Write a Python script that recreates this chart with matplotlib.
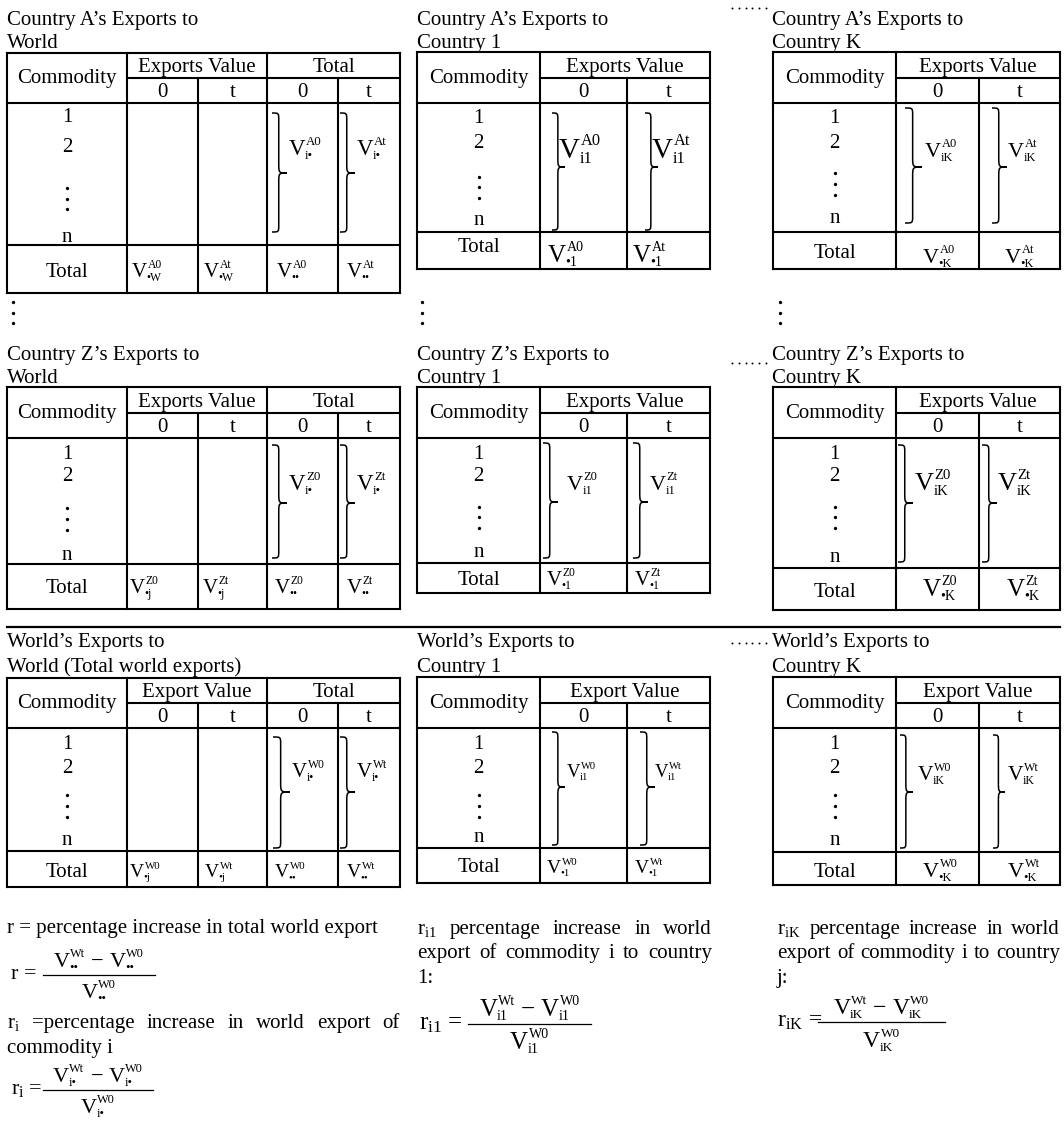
import matplotlib
matplotlib.use('Agg')
import matplotlib.pyplot as plt
from matplotlib.path import Path
from matplotlib.patches import PathPatch

plt.rcParams['font.family'] = ['Liberation Serif', 'DejaVu Serif']
plt.rcParams['mathtext.fontset'] = 'custom'
plt.rcParams['mathtext.rm'] = 'Liberation Serif'
plt.rcParams['mathtext.it'] = 'Liberation Serif:italic'

# ---------------- data ----------------
origins = ['A', 'Z', 'W']
title_first = ['Country A’s Exports to', 'Country Z’s Exports to', 'World’s Exports to']
title_second = [['World', 'Country 1', 'Country K'],
                ['World', 'Country 1', 'Country K'],
                ['World (Total world exports)', 'Country 1', 'Country K']]
value_headers = ['Exports Value', 'Exports Value', 'Export Value']
total_header = 'Total'
commodity_header = 'Commodity'
periods = ['0', 't']
commodity_labels = ['1', '2', 'n']
body_subs = ['i•', 'i1', 'iK']
world_total_subs = ['•W', '•j', '•j']
grand_total_sub = '••'
country_total_subs = ['•1', '•K']

left_line1 = 'r = percentage increase in total world export'
left_words2 = [r'$\mathregular{r_i}$', '=percentage', 'increase', 'in', 'world', 'export', 'of']
left_line3 = 'commodity i'
mid_words1 = [r'$\mathregular{r_{i1}}$', 'percentage', 'increase', 'in', 'world']
right_words1 = [r'$\mathregular{r_{iK}}$', 'percentage', 'increase', 'in', 'world']
words2 = ['export', 'of', 'commodity', 'i', 'to', 'country']
mid_line3 = '1:'
right_line3 = 'j:'
formula_labels = ['r =', r'$\mathregular{r_i}$ =', r'$\mathregular{r_{i1}}$ =', r'$\mathregular{r_{iK}}$ =']
formula_subs = ['••', 'i•', 'i1', 'iK']

# ---------------- layout ----------------
FS = 15
LW = 1.5
PT = 100 / 72.0
SR = 0.56  # script size ratio
COLS = [[7, 127, 198, 267, 338, 400], [417, 540, 627, 710], [773, 896, 979, 1060]]
TITLE_X = [7, 417, 772]
TITLE_Y = [(25, 48), (360, 383), (647, 672)]
LAYOUT = {
    (0, 0): dict(rows=[53, 78, 103, 245, 293], lab=[116, 146, (188, 199, 209), 237],
                 br=[(272, 287), (340, 355)], by=(113, 173, 232), vx=[289, 357], vy=155, vs=16.5,
                 tx=[132, 204, 277, 347], ty=277, ts=15, tb=277),
    (0, 1): dict(rows=[52, 78, 103, 232, 269], lab=[117, 142, (177, 187, 198), 220],
                 br=[(552, 565), (645, 658)], by=(113, 167, 230), vx=[559, 652], vy=158, vs=21,
                 tx=[548, 633], ty=262, ts=18, tb=252),
    (0, 2): dict(rows=[52, 78, 103, 232, 269], lab=[117, 142, (173, 184, 195), 218],
                 br=[(905, 922), (992, 1007)], by=(108, 167, 223), vx=[925, 1008], vy=157, vs=16,
                 tx=[923, 1005], ty=263, ts=16, tb=258),
    (1, 0): dict(rows=[387, 413, 438, 564, 609], lab=[453, 475, (508, 519, 530), 555],
                 br=[(272, 287), (340, 355)], by=(445, 503, 558), vx=[289, 357], vy=490, vs=16.5,
                 tx=[130, 203, 275, 347], ty=593, ts=15, tb=593),
    (1, 1): dict(rows=[387, 413, 438, 563, 593], lab=[453, 475, (507, 517, 528), 552],
                 br=[(543, 558), (633, 648)], by=(443, 502, 558), vx=[567, 650], vy=490, vs=16,
                 tx=[547, 635], ty=585, ts=15, tb=585),
    (1, 2): dict(rows=[387, 413, 438, 568, 610], lab=[453, 475, (507, 517, 528), 557],
                 br=[(898, 913), (982, 997)], by=(445, 503, 562), vx=[915, 998], vy=490, vs=19,
                 tx=[923, 1007], ty=596, ts=18, tb=597),
    (2, 0): dict(rows=[678, 703, 728, 851, 887], lab=[743, 767, (795, 806, 817), 840],
                 br=[(273, 290), (340, 355)], by=(737, 792, 848), vx=[292, 357], vy=777, vs=15,
                 tx=[130, 205, 275, 347], ty=877, ts=14, tb=877),
    (2, 1): dict(rows=[677, 703, 728, 848, 883], lab=[743, 767, (795, 806, 817), 837],
                 br=[(552, 565), (640, 655)], by=(732, 787, 845), vx=[567, 655], vy=777, vs=13.5,
                 tx=[547, 635], ty=873, ts=14, tb=872),
    (2, 2): dict(rows=[677, 703, 728, 852, 885], lab=[743, 767, (795, 806, 817), 840],
                 br=[(900, 913), (993, 1005)], by=(735, 792, 848), vx=[918, 1008], vy=780, vs=15.5,
                 tx=[923, 1008], ty=877, ts=16, tb=877),
}

fig = plt.figure(figsize=(10.64, 11.22), dpi=100)
ax = fig.add_axes([0, 0, 1, 1])
ax.set_xlim(0, 1064)
ax.set_ylim(1122, 0)
ax.axis('off')
renderer = fig.canvas.get_renderer()


def tw(s, size):
    t = ax.text(0, 0, s, fontsize=size)
    w = t.get_window_extent(renderer=renderer).width
    t.remove()
    return w


def txt(x, y, s, size=FS, ha='left'):
    ax.text(x, y, s, fontsize=size, ha=ha, va='baseline', color='black')


def hline(y, x0, x1, lw=LW):
    ax.plot([x0, x1], [y, y], color='black', lw=lw, solid_capstyle='projecting')


def vline(x, y0, y1, lw=LW):
    ax.plot([x, x], [y0, y1], color='black', lw=lw, solid_capstyle='projecting')


def vsym(x, yb, sup, sub, size, r=SR, draw=True):
    em = size * PT
    cap = 0.66 * em
    wV = tw('V', size)
    ss = size * r
    wsup = tw(sup, ss)
    wsub = tw(sub, ss)
    if draw:
        txt(x, yb, 'V', size)
        txt(x + wV + 0.02 * em, yb - 0.66 * cap, sup, ss)
        txt(x + wV - 0.02 * em, yb + 0.26 * cap, sub, ss)
    return wV + max(wsup + 0.02 * em, wsub - 0.02 * em)


def brace(xl, xr, yt, ym, yb, lw=1.1):
    xm = xl + 0.45 * (xr - xl)
    he, ht = 7, 10
    verts = [(xl, yt), (xm, yt), (xm, yt), (xm, yt + he),
             (xm, ym - ht),
             (xm, ym), (xm, ym), (xr, ym),
             (xm, ym), (xm, ym), (xm, ym + ht),
             (xm, yb - he),
             (xm, yb), (xm, yb), (xl, yb)]
    codes = [Path.MOVETO, Path.CURVE4, Path.CURVE4, Path.CURVE4, Path.LINETO,
             Path.CURVE4, Path.CURVE4, Path.CURVE4, Path.CURVE4, Path.CURVE4, Path.CURVE4,
             Path.LINETO, Path.CURVE4, Path.CURVE4, Path.CURVE4]
    ax.add_patch(PathPatch(Path(verts, codes), fill=False, lw=lw, edgecolor='black'))


def dots(xs, ys, ms=2.4):
    ax.plot(xs, ys, 'o', color='black', ms=ms, mew=0)


def justify(words, x0, x1, yb, size=FS):
    ws = [tw(w, size) for w in words]
    gap = (x1 - x0 - sum(ws)) / (len(words) - 1)
    x = x0
    for w, wd in zip(words, ws):
        txt(x, yb, w, size)
        x += wd + gap


def compose(items, xc, yb, size, r=SR):
    ws = []
    for it in items:
        if it[0] == 'V':
            ws.append(vsym(0, 0, it[1], it[2], size, r, draw=False))
        elif it[0] == 'T':
            ws.append(tw(it[1], size))
        else:
            ws.append(it[1])
    x = xc - sum(ws) / 2
    for it, w in zip(items, ws):
        if it[0] == 'V':
            vsym(x, yb, it[1], it[2], size, r)
        elif it[0] == 'T':
            txt(x, yb, it[1], size)
        x += w


def draw_table(r, c):
    L = LAYOUT[(r, c)]
    cols = COLS[c]
    top, hd, sb, db, bt = L['rows']
    world = (c == 0)
    em = FS * PT
    hline(top, cols[0], cols[-1]); hline(bt, cols[0], cols[-1])
    vline(cols[0], top, bt); vline(cols[-1], top, bt)
    hline(hd, cols[1], cols[-1]); hline(sb, cols[0], cols[-1]); hline(db, cols[0], cols[-1])
    vline(cols[1], top, bt)
    if world:
        vline(cols[3], top, bt); vline(cols[2], hd, bt); vline(cols[4], hd, bt)
    else:
        vline(cols[2], hd, bt)
    xc0 = (cols[0] + cols[1]) / 2
    txt(xc0, hd + 5, commodity_header, FS, 'center')
    txt((cols[1] + cols[3]) / 2, hd - 6, value_headers[r], FS, 'center')
    if world:
        txt((cols[3] + cols[5]) / 2, hd - 6, total_header, FS, 'center')
    for k in range(1, len(cols) - 1):
        txt((cols[k] + cols[k + 1]) / 2, sb - 6, periods[(k - 1) % 2], FS, 'center')
    y1, y2, dy, yn = L['lab']
    txt(xc0, y1 + 0.31 * em, commodity_labels[0], FS, 'center')
    txt(xc0, y2 + 0.31 * em, commodity_labels[1], FS, 'center')
    dots([xc0] * 3, list(dy))
    txt(xc0, yn + 0.22 * em, commodity_labels[2], FS, 'center')
    for j in range(2):
        xl, xr = L['br'][j]
        brace(xl, xr, *L['by'])
        vsym(L['vx'][j], L['vy'], origins[r] + periods[j], body_subs[c], L['vs'])
    txt(xc0, L['tb'], total_header, FS, 'center')
    if world:
        entries = [(origins[r] + p, world_total_subs[r]) for p in periods] + \
                  [(origins[r] + p, grand_total_sub) for p in periods]
    else:
        entries = [(origins[r] + p, country_total_subs[c - 1]) for p in periods]
    for j, (sup, sub) in enumerate(entries):
        vsym(L['tx'][j], L['ty'], sup, sub, L['ts'])


for r in range(3):
    for c in range(3):
        txt(TITLE_X[c], TITLE_Y[r][0], title_first[r])
        txt(TITLE_X[c], TITLE_Y[r][1], title_second[r][c])
        draw_table(r, c)

# leader dots and vertical continuation dots
for yl in [8, 363, 643]:
    dots([732 + 6.8 * k for k in range(6)], [yl] * 6, ms=1.4)
for xv in [13, 422, 780]:
    dots([xv] * 3, [302, 312.5, 323])

# separator line
hline(627, 7, 1060, lw=1.6)

# ---------------- formulas ----------------
txt(7, 933, left_line1)
justify(left_words2, 7, 400, 1028)
txt(7, 1053, left_line3)
justify(mid_words1, 417, 712, 934)
justify(words2, 417, 712, 958)
txt(417, 983, mid_line3)
justify(right_words1, 777, 1060, 934)
justify(words2, 777, 1060, 958)
txt(777, 983, right_line3)

FORMULAS = [
    dict(lx=11, ly=979, bar=(43, 155, 975), ny=967, dy=998, size=16),
    dict(lx=11, ly=1094, bar=(43, 153, 1090), ny=1082, dy=1113, size=16),
    dict(lx=419, ly=1029, bar=(468, 591, 1024), ny=1016, dy=1049, size=18),
    dict(lx=777, ly=1027, bar=(818, 945, 1022), ny=1014, dy=1047, size=17),
]
for k, F in enumerate(FORMULAS):
    sub = formula_subs[k]
    txt(F['lx'], F['ly'], formula_labels[k], F['size'])
    x0, x1, yb = F['bar']
    hline(yb, x0, x1, lw=0.9)
    xc = (x0 + x1) / 2
    compose([('V', 'Wt', sub), ('G', 6), ('T', '−'), ('G', 6), ('V', 'W0', sub)], xc, F['ny'], F['size'])
    compose([('V', 'W0', sub)], xc, F['dy'], F['size'])

fig.savefig('out.png', dpi=100)
